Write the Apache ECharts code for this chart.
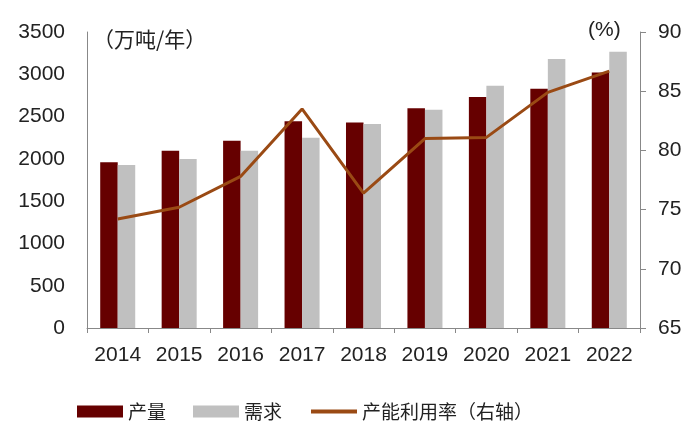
<!DOCTYPE html>
<html>
<head>
<meta charset="utf-8">
<script src="https://cdn.jsdelivr.net/npm/echarts@6/dist/echarts.min.js"></script>
<style>html,body{margin:0;padding:0;background:#fff}#c{width:700px;height:430px}</style>
</head>
<body>
<div id="c"></div>
<script>
const years = ['2014','2015','2016','2017','2018','2019','2020','2021','2022'];
const production = [1960, 2095, 2215, 2445, 2430, 2598, 2730, 2830, 3020];
const demand = [1927, 1998, 2096, 2250, 2412, 2582, 2865, 3180, 3265];
const utilization = [74.2, 75.2, 77.8, 83.5, 76.4, 81.0, 81.1, 84.9, 86.7];
const leftTicks = [0, 3500, 500];
const rightTicks = [65, 90, 5];

const FONT = '"Liberation Sans", Arial, "Noto Sans CJK SC", sans-serif';
const CJK = '"Noto Sans CJK SC", sans-serif';
const chart = echarts.init(document.getElementById('c'), null, {renderer: 'canvas'});
chart.setOption({
  animation: false,
  backgroundColor: '#fff',
  grid: {left: 87, right: 60, top: 32, bottom: 102, containLabel: false},
  legend: {
    left: 72, top: 397,
    itemWidth: 46, itemHeight: 12, itemGap: 27,
    textStyle: {fontFamily: CJK, fontSize: 19, color: '#222'},
    data: [
      {name: '产量', icon: 'rect'},
      {name: '需求', icon: 'rect'},
      {name: '产能利用率（右轴）', itemStyle: {opacity: 0}, lineStyle: {width: 4}}
    ]
  },
  graphic: [
    {type: 'text', left: 93, top: 29, style: {text: '（万吨/年）', font: '21px ' + CJK, fill: '#222'}},
    {type: 'text', left: 588, top: 20, style: {text: '(%)', font: '21px ' + FONT, fill: '#222'}}
  ],
  xAxis: {
    type: 'category', data: years,
    axisLine: {lineStyle: {color: '#888', width: 1}},
    axisTick: {show: true, length: 5, lineStyle: {color: '#888'}},
    axisLabel: {fontFamily: FONT, fontSize: 21, color: '#222', margin: 17}
  },
  yAxis: [
    {
      type: 'value', min: leftTicks[0], max: leftTicks[1], interval: leftTicks[2],
      axisLine: {show: true, lineStyle: {color: '#888'}},
      axisTick: {show: false},
      splitLine: {show: false},
      axisLabel: {fontFamily: FONT, fontSize: 21, color: '#222', margin: 22,
                  formatter: v => String(v)}
    },
    {
      type: 'value', min: rightTicks[0], max: rightTicks[1], interval: rightTicks[2],
      position: 'right',
      axisLine: {show: true, lineStyle: {color: '#888'}},
      axisTick: {show: true, length: 6, lineStyle: {color: '#888'}},
      splitLine: {show: false},
      axisLabel: {fontFamily: FONT, fontSize: 21, color: '#222', margin: 18,
                  formatter: v => String(v)}
    }
  ],
  series: [
    {name: '产量', type: 'bar', data: production, barGap: '0%', barCategoryGap: '43%',
     itemStyle: {color: '#660000'}},
    {name: '需求', type: 'bar', data: demand, barGap: '0%', barCategoryGap: '43%',
     itemStyle: {color: '#C0C0C0'}},
    {name: '产能利用率（右轴）', type: 'line', yAxisIndex: 1, data: utilization,
     symbol: 'none', lineStyle: {color: '#9A4A14', width: 3}, itemStyle: {color: '#9A4A14'}}
  ]
});
</script>
</body>
</html>
